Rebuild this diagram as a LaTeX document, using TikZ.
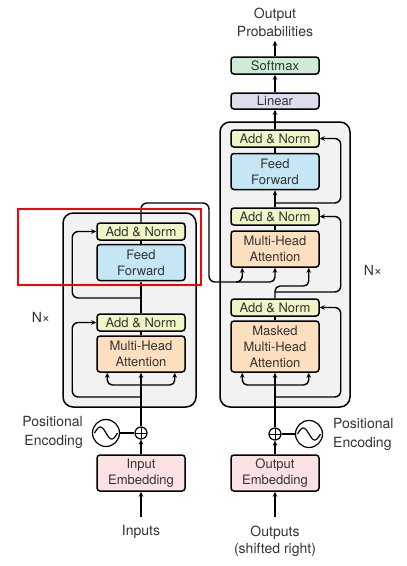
\documentclass[tikz,border=0pt]{standalone}
\usepackage{fontspec}
\setmainfont{TeX Gyre Heros}
\usetikzlibrary{positioning,arrows.meta,calc}
\definecolor{normcol}{HTML}{F1F5C6}
\definecolor{ffcol}{HTML}{C4E6F5}
\definecolor{attcol}{HTML}{FCDFBF}
\definecolor{embcol}{HTML}{FBE0E4}
\definecolor{lincol}{HTML}{DCDEF0}
\definecolor{smcol}{HTML}{CDEBD5}
\definecolor{stackcol}{HTML}{F2F2F2}
\definecolor{txtcol}{HTML}{333333}
\tikzset{
  >={Stealth[length=5pt,width=4.5pt]},
  blk/.style={draw=black,line width=1.5pt,rounded corners=3pt,
    minimum width=88pt,inner sep=1pt,align=center,text=txtcol,
    font=\fontsize{13}{16}\selectfont},
  addnorm/.style={blk,fill=normcol,minimum height=17pt},
  ffbox/.style={blk,fill=ffcol,minimum height=36pt},
  attbox/.style={blk,fill=attcol,minimum height=36pt},
  embbox/.style={blk,fill=embcol,minimum height=36pt},
  linbox/.style={blk,fill=lincol,minimum height=16pt},
  smbox/.style={blk,fill=smcol,minimum height=17pt},
  stackbox/.style={draw=black,line width=1.5pt,rounded corners=10pt,
    fill=stackcol,inner sep=0pt},
  flow/.style={->,line width=1.4pt},
  link/.style={line width=1.4pt},
  lbl/.style={font=\fontsize{14}{17.5}\selectfont,inner sep=0pt,
    text=txtcol},
  plusnode/.style={circle,draw,line width=1.2pt,minimum size=12pt,
    inner sep=0pt,fill=white,
    path picture={\draw[line width=1pt]
      (path picture bounding box.north) -- (path picture bounding box.south)
      (path picture bounding box.west) -- (path picture bounding box.east);}},
  sinenode/.style={circle,draw,line width=1.2pt,minimum size=27pt,
    inner sep=0pt,fill=white},
  wave/.style={line width=1.2pt},
}
\begin{document}
\begin{tikzpicture}[x=1pt,y=-1pt]
  \useasboundingbox (0,0) rectangle (407,566);
  % stacks
  \node[stackbox,minimum width=133pt,minimum height=194pt] (encStack) at (129.5,310) {};
  \node[stackbox,minimum width=130pt,minimum height=285pt] (decStack) at (285,264.5) {};
  % encoder
  \node[addnorm] (encAN2) at (141,231.5) {Add \& Norm};
  \node[ffbox] (encFF) at (141,262.5) {Feed\\Forward};
  \node[addnorm] (encAN1) at (141,322.5) {Add \& Norm};
  \node[attbox] (encMHA) at (141,354) {Multi-Head\\Attention};
  \node[embbox] (inEmb) at (141,473) {Input\\Embedding};
  \node[plusnode] (encPlus) at (141,433) {};
  \node[sinenode] (encSine) at (106,433) {};
  \node[lbl,align=right,anchor=east] (encPE) at (83,432.5) {Positional\\[1.5pt]Encoding};
  \node[lbl] (inputs) at (141,532) {Inputs};
  \node[lbl] (encN) at (41,317) {N×};
  % decoder
  \node[smbox] (softmax) at (275,65.5) {Softmax};
  \node[linbox] (linear) at (275,101) {Linear};
  \node[addnorm] (decAN3) at (275,138.5) {Add \& Norm};
  \node[ffbox] (decFF) at (275,171.5) {Feed\\Forward};
  \node[addnorm] (decAN2) at (275,216.5) {Add \& Norm};
  \node[attbox] (decMHA) at (275,249) {Multi-Head\\Attention};
  \node[addnorm] (decAN1) at (275,307.5) {Add \& Norm};
  \node[attbox,minimum height=51pt] (decMMHA) at (275,346.5) {Masked\\Multi-Head\\Attention};
  \node[embbox] (outEmb) at (275,473) {Output\\Embedding};
  \node[plusnode] (decPlus) at (275,434) {};
  \node[sinenode] (decSine) at (309,434) {};
  \node[lbl,align=left,anchor=west] (decPE) at (333,434) {Positional\\[1.5pt]Encoding};
  \node[lbl,align=center] (outputs) at (275,541.5) {Outputs\\(shifted right)};
  \node[lbl,align=center] (probs) at (275,22.5) {Output\\Probabilities};
  \node[lbl] (decN) at (373,270) {N×};
  % sine waves
  \foreach \s in {encSine,decSine}
    \draw[wave,shift={(\s.center)}] plot[domain=-1:1,samples=40,smooth]
      ({11.5*\x},{6*sin(180*\x)});
  % encoder flow
  \draw[flow,shorten <=8pt] (inputs) -- (inEmb);
  \draw[flow] (inEmb) -- (encPlus);
  \draw[link] (encSine) -- (encPlus);
  \draw[flow] (encPlus) -- (encMHA);
  \coordinate (encFork) at (141,385);
  \draw[flow,rounded corners=5pt] (encFork) -| ([xshift=11pt]encMHA.south west);
  \draw[flow,rounded corners=5pt] (encFork) -| ([xshift=-11pt]encMHA.south east);
  \coordinate (encRes1) at (141,397);
  \draw[flow,rounded corners=6pt] (encRes1) -| ([xshift=-24pt]encAN1.west) -- (encAN1.west);
  \draw[link] (encMHA) -- (encAN1);
  \draw[flow] (encAN1) -- (encFF);
  \coordinate (encRes2) at (141,298);
  \draw[flow,rounded corners=6pt] (encRes2) -| ([xshift=-24pt]encAN2.west) -- (encAN2.west);
  \draw[link] (encFF) -- (encAN2);
  % encoder output to decoder
  \coordinate (encTop) at (209,203);
  \coordinate (kvFork) at (209,282);
  \coordinate (kvMid) at (236,282);
  \draw[flow,rounded corners=6pt] (encAN2.north) |- (encTop) -- (kvFork)
    -| ([xshift=12pt]decMHA.south west);
  \draw[flow,rounded corners=5pt] (kvMid) -| (decMHA.south);
  % decoder flow
  \draw[flow,shorten <=8.5pt] (outputs) -- (outEmb);
  \draw[flow] (outEmb) -- (decPlus);
  \draw[link] (decSine) -- (decPlus);
  \draw[flow] (decPlus) -- (decMMHA);
  \coordinate (decFork) at (275,385);
  \draw[flow,rounded corners=5pt] (decFork) -| ([xshift=12pt]decMMHA.south west);
  \draw[flow,rounded corners=5pt] (decFork) -| ([xshift=-11pt]decMMHA.south east);
  \coordinate (decRes1) at (275,397);
  \draw[flow,rounded corners=6pt] (decRes1) -| ([xshift=21pt]decAN1.east) -- (decAN1.east);
  \draw[link] (decMMHA) -- (decAN1);
  \coordinate (qTurn) at (290,286);
  \draw[flow,rounded corners=5pt] (decAN1.north) |- (qTurn)
    -| ([xshift=-11pt]decMHA.south east);
  \coordinate (decRes2) at (275,292);
  \draw[flow,rounded corners=6pt] (decRes2) -| ([xshift=21pt]decAN2.east) -- (decAN2.east);
  \draw[link] (decMHA) -- (decAN2);
  \draw[flow] (decAN2) -- (decFF);
  \coordinate (decRes3) at (275,203);
  \draw[flow,rounded corners=6pt] (decRes3) -| ([xshift=21pt]decAN3.east) -- (decAN3.east);
  \draw[link] (decFF) -- (decAN3);
  \draw[flow] (decAN3) -- (linear);
  \draw[flow] (linear) -- (softmax);
  \draw[flow,shorten >=4pt] (softmax) -- (probs);
  % highlight
  \draw[red,line width=1.3pt] (18,209) rectangle (201,285);
\end{tikzpicture}
\end{document}
